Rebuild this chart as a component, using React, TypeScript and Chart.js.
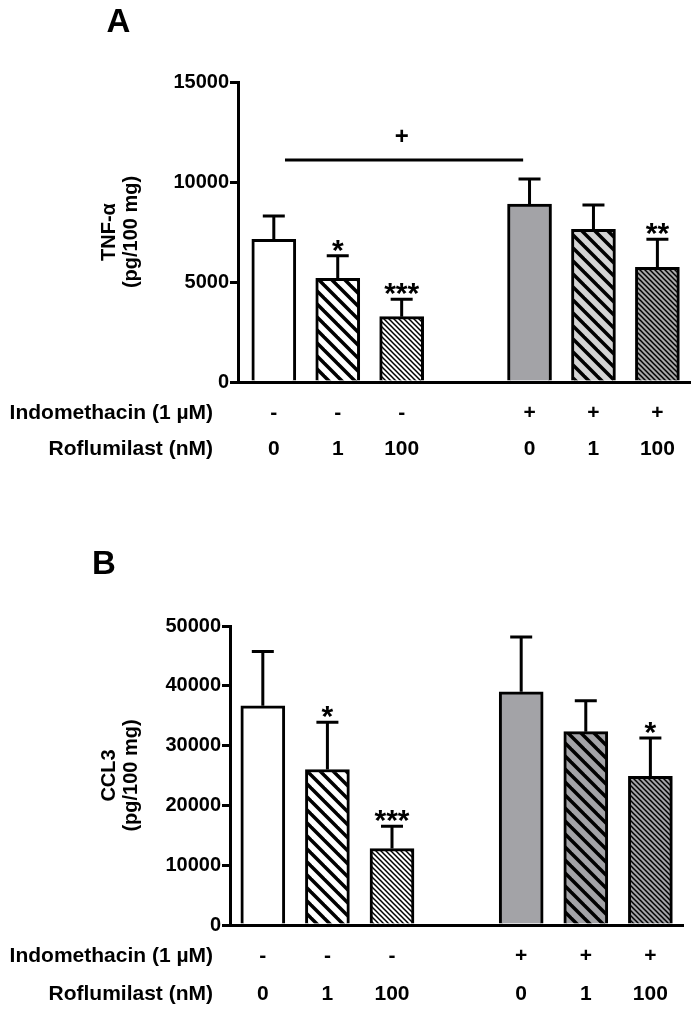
import React, { useEffect, useRef } from "react";
import { Chart, registerables } from "chart.js";

Chart.register(...registerables);

// ---------- DATA ----------
const positions = [0, 1, 2, 4, 5, 6];
const indomethacinLabels = ["-", "-", "-", "+", "+", "+"];
const roflumilastLabels = ["0", "1", "100", "0", "1", "100"];
const rowNames = ["Indomethacin (1 µM)", "Roflumilast (nM)"];

const tnfMeans = [7135, 5185, 3265, 8900, 7635, 5735];
const tnfErrors = [1165, 1130, 870, 1250, 1215, 1400];
const tnfStars = ["", "*", "***", "", "", "**"];
const tnfTitle = ["TNF-α", "(pg/100 mg)"];
const tnfSigLine = { from: 0.175, to: 3.9, y: 11100, label: "+", labelX: 2, labelY: 12250 };

const ccl3Means = [36670, 26000, 12780, 39000, 32330, 24880];
const ccl3Errors = [9050, 7890, 3720, 9170, 5170, 6400];
const ccl3Stars = ["", "*", "***", "", "", "*"];
const ccl3Title = ["CCL3", "(pg/100 mg)"];

// ---------- STYLE ----------
const FONT = '"Liberation Sans", Arial, Helvetica, sans-serif';

function hatch(bg: string, size: number, lw: number): CanvasPattern | string {
  const c = document.createElement("canvas");
  c.width = size;
  c.height = size;
  const g = c.getContext("2d");
  if (!g) return bg;
  g.fillStyle = bg;
  g.fillRect(0, 0, size, size);
  g.strokeStyle = "#000";
  g.lineWidth = lw;
  g.lineCap = "square";
  for (let k = -1; k <= 1; k++) {
    g.beginPath();
    g.moveTo(k * size, 0);
    g.lineTo(k * size + size, size);
    g.stroke();
  }
  const p = g.createPattern(c, "repeat");
  return p || bg;
}

type PanelSpec = {
  letter: string;
  letterX: number;
  letterY: number;
  means: number[];
  errors: number[];
  stars: string[];
  title: string[];
  titleX: [number, number];
  yMax: number;
  step: number;
  xMin: number;
  xMax: number;
  height: number;
  padTop: number;
  padRight: number;
  yAxisWidth: number;
  xAxisHeight: number;
  rowOffsets: [number, number];
  fills: () => (string | CanvasPattern)[];
  sig?: typeof tnfSigLine;
};

const panels: PanelSpec[] = [
  {
    letter: "A",
    letterX: 118.5,
    letterY: 32,
    means: tnfMeans,
    errors: tnfErrors,
    stars: tnfStars,
    title: tnfTitle,
    titleX: [109, 131],
    yMax: 15000,
    step: 5000,
    xMin: -0.56,
    xMax: 6.51,
    height: 490,
    padTop: 82,
    padRight: 8,
    yAxisWidth: 238,
    xAxisHeight: 108,
    rowOffsets: [31, 67],
    fills: () => [
      "#ffffff",
      hatch("#ffffff", 13, 3.5),
      hatch("#ffffff", 5, 1.5),
      "#a3a3a7",
      hatch("#d4d4d4", 13, 3.5),
      hatch("#a8a8a8", 5, 1.5),
    ],
    sig: tnfSigLine,
  },
  {
    letter: "B",
    letterX: 104,
    letterY: 84,
    means: ccl3Means,
    errors: ccl3Errors,
    stars: ccl3Stars,
    title: ccl3Title,
    titleX: [109, 131],
    yMax: 50000,
    step: 10000,
    xMin: -0.508,
    xMax: 6.505,
    height: 530,
    padTop: 136,
    padRight: 15,
    yAxisWidth: 230,
    xAxisHeight: 95,
    rowOffsets: [31, 69],
    fills: () => [
      "#ffffff",
      hatch("#ffffff", 13, 3.5),
      hatch("#ffffff", 5, 1.5),
      "#a3a3a7",
      hatch("#a3a3a7", 13, 3.5),
      hatch("#a3a3a7", 5, 1.5),
    ],
  },
];

function makeAnnotPlugin(p: PanelSpec) {
  return {
    id: "annot" + p.letter,
    afterDatasetsDraw(chart: any) {
      const ctx: CanvasRenderingContext2D = chart.ctx;
      const xs = chart.scales.x;
      const ys = chart.scales.y;
      const area = chart.chartArea;
      ctx.save();
      ctx.strokeStyle = "#000";
      ctx.fillStyle = "#000";
      ctx.lineWidth = 3;
      ctx.lineCap = "butt";

      // error bars (upper only)
      positions.forEach((pos, i) => {
        const cx = xs.getPixelForValue(pos);
        const yTop = ys.getPixelForValue(p.means[i]);
        const yErr = ys.getPixelForValue(p.means[i] + p.errors[i]);
        ctx.beginPath();
        ctx.moveTo(cx, yTop);
        ctx.lineTo(cx, yErr);
        ctx.moveTo(cx - 11, yErr);
        ctx.lineTo(cx + 11, yErr);
        ctx.stroke();
        if (p.stars[i]) {
          ctx.font = `bold 30px ${FONT}`;
          ctx.textAlign = "center";
          ctx.textBaseline = "alphabetic";
          ctx.fillText(p.stars[i], cx, yErr + 4);
        }
      });

      // significance line
      if (p.sig) {
        const s = p.sig;
        const y = ys.getPixelForValue(s.y);
        ctx.beginPath();
        ctx.moveTo(xs.getPixelForValue(s.from), y);
        ctx.lineTo(xs.getPixelForValue(s.to), y);
        ctx.stroke();
        ctx.font = `bold 24px ${FONT}`;
        ctx.textAlign = "center";
        ctx.textBaseline = "middle";
        ctx.fillText(s.label, xs.getPixelForValue(s.labelX), ys.getPixelForValue(s.labelY));
      }

      // row labels
      ctx.font = `bold 21px ${FONT}`;
      ctx.textBaseline = "middle";
      const rows = [indomethacinLabels, roflumilastLabels];
      rows.forEach((labels, r) => {
        const y = area.bottom + p.rowOffsets[r];
        ctx.textAlign = "right";
        ctx.fillText(rowNames[r], 213, y);
        ctx.textAlign = "center";
        labels.forEach((lab, i) => {
          ctx.fillText(lab, xs.getPixelForValue(positions[i]), y);
        });
      });

      // panel letter
      ctx.font = `bold 33px ${FONT}`;
      ctx.textAlign = "center";
      ctx.textBaseline = "alphabetic";
      ctx.fillText(p.letter, p.letterX, p.letterY);

      // y-axis title (rotated)
      const yc = (area.top + area.bottom) / 2;
      ctx.font = `bold 20px ${FONT}`;
      ctx.textAlign = "center";
      ctx.textBaseline = "middle";
      p.title.forEach((line, k) => {
        ctx.save();
        ctx.translate(p.titleX[k], yc);
        ctx.rotate(-Math.PI / 2);
        ctx.fillText(line, 0, 0);
        ctx.restore();
      });
      ctx.restore();
    },
  };
}

function Panel({ spec }: { spec: PanelSpec }) {
  const ref = useRef<HTMLCanvasElement | null>(null);
  useEffect(() => {
    if (!ref.current) return;
    const p = spec;
    const chart = new Chart(ref.current, {
      type: "bar",
      data: {
        datasets: [
          {
            data: positions.map((x, i) => ({ x, y: p.means[i] })) as any,
            backgroundColor: p.fills() as any,
            borderColor: "#000",
            borderWidth: 3,
            borderSkipped: "bottom",
            barThickness: 44,
          },
        ],
      },
      options: {
        responsive: false,
        animation: false,
        devicePixelRatio: 1,
        layout: { padding: { top: p.padTop, right: p.padRight, left: 0, bottom: 0 } },
        plugins: { legend: { display: false }, tooltip: { enabled: false } },
        scales: {
          x: {
            type: "linear",
            offset: false,
            min: p.xMin,
            max: p.xMax,
            grid: { display: false, offset: false },
            ticks: { display: false },
            border: { display: true, color: "#000", width: 3 },
            afterFit: (s: any) => {
              s.height = p.xAxisHeight;
            },
          },
          y: {
            type: "linear",
            min: 0,
            max: p.yMax,
            ticks: {
              stepSize: p.step,
              color: "#000",
              padding: 1,
              font: { family: FONT, size: 20, weight: "bold" },
              callback: (v: any) => String(v),
            },
            grid: {
              drawOnChartArea: false,
              drawTicks: true,
              tickLength: 8,
              color: "#000",
              lineWidth: 3,
            },
            border: { display: true, color: "#000", width: 3 },
            afterFit: (s: any) => {
              s.width = p.yAxisWidth;
            },
          },
        },
      } as any,
      plugins: [makeAnnotPlugin(p)],
    });
    return () => chart.destroy();
  }, [spec]);
  return (
    <canvas
      ref={ref}
      width={698}
      height={spec.height}
      style={{ display: "block", width: 698, height: spec.height }}
    />
  );
}

export default function App() {
  return (
    <div
      style={{
        position: "absolute",
        left: 0,
        top: 0,
        width: 698,
        height: 1020,
        background: "#ffffff",
        overflow: "hidden",
      }}
    >
      {panels.map((s) => (
        <Panel key={s.letter} spec={s} />
      ))}
    </div>
  );
}
